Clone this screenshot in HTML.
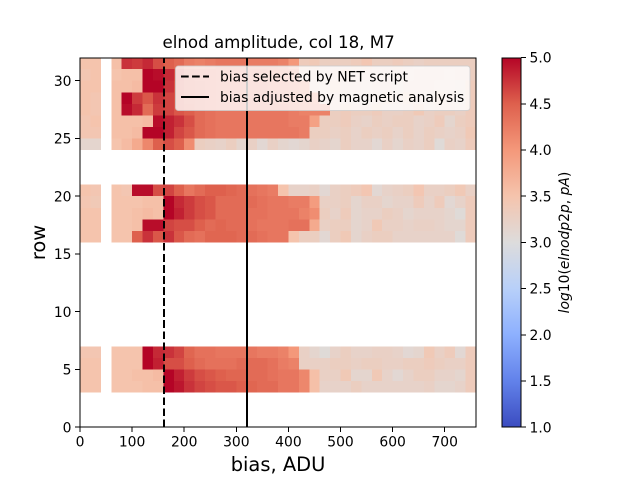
<!DOCTYPE html>
<html>
<head>
<meta charset="utf-8">
<title>elnod amplitude</title>
<style>
html,body{margin:0;padding:0;background:#fff;width:640px;height:480px;overflow:hidden}
svg{display:block}
text{font-family:"DejaVu Sans","Liberation Sans",sans-serif;fill:#000}
</style>
</head>
<body>
<svg id="chart" width="640" height="480" viewBox="0 0 640 480" xmlns="http://www.w3.org/2000/svg">
<rect width="640" height="480" fill="#fff"/>
<g id="cells" shape-rendering="crispEdges"></g>
<g id="lines" shape-rendering="crispEdges"></g>
<g id="legend">
<rect x="175.5" y="66" width="294.5" height="44.5" rx="2.8" fill="#fff" fill-opacity="0.8" stroke="#ccc" stroke-opacity="0.8" stroke-width="1"/>
<line x1="181" x2="209" y1="76.5" y2="76.5" stroke="#000" stroke-width="2.08" stroke-dasharray="7.7 3.33"/>
<text x="220" y="81.5" font-size="13.89">bias selected by NET script</text>
<line x1="181" x2="209" y1="97" y2="97" stroke="#000" stroke-width="2.08"/>
<text x="220" y="102" font-size="13.89">bias adjusted by magnetic analysis</text>
</g>
<g id="axes"></g>
<text x="278.6" y="48" font-size="16.67" text-anchor="middle">elnod amplitude, col 18, M7</text>
<text x="278" y="471" font-size="19.44" text-anchor="middle">bias, ADU</text>
<text transform="translate(45 242.5) rotate(-90)" font-size="19.44" text-anchor="middle">row</text>
<defs>
<linearGradient id="cmapGrad" x1="0" y1="1" x2="0" y2="0"></linearGradient>
</defs>
<rect id="cbar" x="502.5" y="57.6" width="18.5" height="369.6" fill="url(#cmapGrad)"/>
<rect x="502" y="58" width="19" height="369" fill="none" stroke="#000" stroke-width="1" shape-rendering="crispEdges"/>
<g id="cbarTicks"></g>
<text transform="translate(569 242.5) rotate(-90)" font-size="13.89" text-anchor="middle"><tspan font-style="italic">log</tspan>10(<tspan font-style="italic">elnodp</tspan>2<tspan font-style="italic">p</tspan>, <tspan font-style="italic">pA</tspan>)</text>
</svg>
<script>
var n = null;
var rowLabels = [3,4,5,6,16,17,18,19,20,24,25,26,27,28,29,30,31];
var row3  = [3.5,3.5,n,3.5,3.5,3.5,3.55,3.55,5,4.9,4.75,4.65,4.6,4.55,4.55,4.5,4.45,4.4,4.4,4.3,4.3,4.15,3.55,3.2,3.2,3.2,3.3,3.2,3.2,3.2,3.2,3.2,3.2,3.25,3.15,3.15,3.2,3.35];
var row4  = [3.5,3.5,n,3.5,3.5,3.55,3.55,3.6,5,4.85,4.7,4.6,4.55,4.5,4.45,4.45,4.4,4.4,4.35,4.3,4.3,4.15,3.55,3.25,3.25,3.4,3.15,3.15,3.4,3.2,3.1,3.2,3.3,3.3,3.2,3.2,3.15,3.35];
var row5  = [3.5,3.5,n,3.5,3.5,3.5,5,4.85,4.6,4.6,4.5,4.4,4.35,4.35,4.35,4.4,4.4,4.4,4.35,4.25,4.2,3.25,3.25,3.25,3.3,3.3,3.25,3.3,3.3,3.25,3.25,3.3,3.3,3.35,3.3,3.25,3.25,3.35];
var row6  = [3.45,3.45,n,3.5,3.5,3.5,5,4.8,4.75,4.65,4.45,4.35,4.35,4.3,4.3,4.3,4.3,4.25,4.25,4.2,4.0,3.25,3.15,3.05,3.2,3.3,3.2,3.2,3.25,3.25,3.2,3.1,3.15,3.4,3.25,3.35,3.1,3.35];
var row16 = [3.5,3.5,n,3.5,3.5,4.5,4.75,4.55,4.75,4.55,4.4,4.35,4.45,4.45,4.45,4.4,4.4,4.35,4.3,4.3,3.5,3.3,3.3,3.1,3.3,3.4,3.15,3.25,3.3,3.3,3.2,3.2,3.2,3.2,3.2,3.2,3.05,3.35];
var row17 = [3.5,3.5,n,3.5,3.5,3.55,4.95,4.95,4.65,4.6,4.6,4.5,4.4,4.45,4.4,4.4,4.35,4.3,4.3,4.3,4.35,4.35,3.8,3.25,3.3,3.3,3.15,3.2,3.4,3.25,3.25,3.2,3.25,3.25,3.2,3.15,3.15,3.35];
var row18 = [3.5,3.5,n,3.5,3.5,3.55,3.6,3.55,5,4.85,4.7,4.6,4.55,4.4,4.4,4.4,4.35,4.35,4.3,4.3,4.3,4.2,4.1,3.3,3.2,3.35,3.15,3.2,3.2,3.3,3.25,3.15,3.2,3.2,3.2,3.15,3.05,3.35];
var row19 = [3.45,3.4,n,3.5,3.5,3.5,3.55,3.55,5,4.8,4.7,4.6,4.55,4.4,4.4,4.4,4.4,4.35,4.3,4.3,4.25,4.25,3.95,3.25,3.25,3.3,3.15,3.25,3.25,3.15,3.2,3.2,3.35,3.2,3.35,3.1,3.2,3.35];
var row20 = [3.5,3.45,n,3.5,3.45,4.95,4.95,4.6,4.65,4.5,4.3,4.4,4.5,4.5,4.45,4.4,4.35,4.3,4.25,3.5,3.2,3.2,3.25,3.1,3.25,3.3,3.35,3.45,3.1,3.2,3.25,3.3,3.45,3.25,3.25,3.3,3.4,3.25];
var row24 = [3.15,3.15,n,3.5,3.6,3.8,4.15,4.5,4.6,4.5,4.1,3.3,3.25,3.2,3.3,3.15,3.25,3.1,3.25,3.15,3.1,3.15,3.25,3.2,3.15,3.3,3.2,3.2,3.1,3.25,3.15,3.25,3.2,3.3,3.05,3.25,3.2,3.35];
var row25 = [3.45,3.45,n,3.55,3.55,3.6,5,5,4.85,4.65,4.55,4.4,4.35,4.3,4.3,4.3,4.3,4.3,4.3,4.3,4.3,4.25,3.3,3.3,3.25,3.3,3.2,3.3,3.25,3.3,3.2,3.3,3.2,3.3,3.25,3.2,3.25,3.4];
var row26 = [3.45,3.5,n,3.55,3.55,3.55,3.6,4.95,4.85,4.75,4.6,4.4,4.35,4.3,4.3,4.3,4.3,4.3,4.3,4.3,4.25,4.25,3.9,3.3,3.3,3.35,3.25,3.2,3.3,3.25,3.3,3.3,3.2,3.25,3.35,3.15,3.3,3.35];
var row27 = [3.5,3.45,n,3.55,4.95,4.8,4.4,4.7,4.65,4.55,4.5,4.4,4.35,4.3,4.3,4.3,4.3,4.3,4.3,4.3,4.25,4.2,4.2,4.2,3.3,3.35,3.3,3.3,3.35,3.25,3.25,3.3,3.4,3.25,3.3,3.3,3.25,3.35];
var row28 = [3.5,3.45,n,3.55,5,4.7,4.55,4.75,4.65,4.55,4.45,4.4,4.35,4.3,4.3,4.3,4.3,4.3,4.3,4.25,4.25,4.2,4.15,3.3,3.3,3.3,3.25,3.25,3.3,3.35,3.3,3.35,3.3,3.25,3.35,3.3,3.2,3.35];
var row29 = [3.5,3.5,n,3.55,3.55,3.6,5,5,4.75,4.55,4.45,4.4,4.35,4.3,4.3,4.3,4.3,4.3,4.25,4.25,4.2,4.15,3.3,3.25,3.35,3.3,3.3,3.25,3.3,3.3,3.2,3.3,3.3,3.3,3.25,3.25,3.2,3.35];
var row30 = [3.45,3.5,n,3.5,3.55,3.55,5,4.95,4.8,4.6,4.4,4.35,4.35,4.3,4.3,4.3,4.3,4.3,4.25,4.25,4.2,3.3,3.3,3.25,3.3,3.35,3.3,3.3,3.25,3.3,3.3,3.25,3.3,3.3,3.3,3.25,3.3,3.3];
var row31 = [3.5,3.5,n,3.55,4.75,4.7,4.8,4.6,4.5,4.4,4.25,4.2,4.25,4.3,4.3,4.3,4.25,4.25,4.25,4.2,4.0,3.35,3.4,3.3,3.3,3.3,3.35,3.45,3.3,3.3,3.35,3.3,3.25,3.3,3.3,3.3,3.3,3.3];
var heatRows = [row3,row4,row5,row6,row16,row17,row18,row19,row20,row24,row25,row26,row27,row28,row29,row30,row31];
var binWidth = 20;
var xTicks = [0,100,200,300,400,500,600,700];
var yTicks = [0,5,10,15,20,25,30];
var cbarTicks = [1.0,1.5,2.0,2.5,3.0,3.5,4.0,4.5,5.0];
var selectedBias = [160];
var adjustedBias = [320];

var L=80,R=476,T=57.6,B=427.2,XMAX=760,YMAX=32,VMIN=1,VMAX=5;
function sx(v){return L+(v/XMAX)*(R-L);}
function sy(v){return B-(v/YMAX)*(B-T);}
function sc(v){return B-((v-VMIN)/(VMAX-VMIN))*(B-T);}
var cmap=[[59,76,192],[98,130,234],[141,176,254],[184,208,249],[221,220,220],[245,196,173],[244,152,122],[222,96,77],[180,4,38]];
function color(v){
  var t=Math.max(0,Math.min(1,(v-VMIN)/(VMAX-VMIN)))*(cmap.length-1);
  var i=Math.min(cmap.length-2,Math.floor(t)),f=t-i,a=cmap[i],b=cmap[i+1];
  return 'rgb('+Math.round(a[0]+(b[0]-a[0])*f)+','+Math.round(a[1]+(b[1]-a[1])*f)+','+Math.round(a[2]+(b[2]-a[2])*f)+')';
}
var NS='http://www.w3.org/2000/svg';
function mk(tag,parent,attrs){
  var e=document.createElementNS(NS,tag);
  for(var k in attrs){e.setAttribute(k,attrs[k]);}
  parent.appendChild(e);
  return e;
}
var cells=document.getElementById('cells');
heatRows.forEach(function(vals,ri){
  var r=rowLabels[ri];
  vals.forEach(function(v,ci){
    if(v===null){return;}
    var x0=sx(ci*binWidth),x1=sx((ci+1)*binWidth),y0=sy(r+1),y1=sy(r);
    var c=mk('rect',cells,{x:x0,y:y0,width:x1-x0,height:y1-y0,fill:color(v)});
    
    
  });
});
var lines=document.getElementById('lines');
selectedBias.forEach(function(b){
  var x=Math.ceil(sx(b));
  var l=mk('line',lines,{x1:x,x2:x,y1:B,y2:T,stroke:'#000','stroke-width':2,'stroke-dasharray':'7.7 3.33'});
  
  
});
adjustedBias.forEach(function(b){
  var x=Math.ceil(sx(b));
  var l=mk('line',lines,{x1:x,x2:x,y1:B,y2:T,stroke:'#000','stroke-width':2});
  
  
});
var axes=document.getElementById('axes');
axes.setAttribute('shape-rendering','crispEdges');
var frame=mk('rect',axes,{x:L,y:58,width:R-L,height:369,fill:'none',stroke:'#000','stroke-width':1});


xTicks.forEach(function(t){
  var x=sx(t);
  var m=mk('line',axes,{x1:x,x2:x,y1:B,y2:B+4.9,stroke:'#000','stroke-width':1});
  
  
  var s=mk('text',axes,{x:x,y:B+19.3,'font-size':13.89,'text-anchor':'middle'});
  
  
  s.textContent=t;
});
yTicks.forEach(function(t){
  var y=sy(t);
  var m=mk('line',axes,{x1:L-4.9,x2:L,y1:y,y2:y,stroke:'#000','stroke-width':1});
  
  
  var s=mk('text',axes,{x:L-8.5,y:y+5.1,'font-size':13.89,'text-anchor':'end'});
  
  
  s.textContent=t;
});
var grad=document.getElementById('cmapGrad');
cmap.forEach(function(c,i){
  mk('stop',grad,{offset:i/(cmap.length-1),'stop-color':'rgb('+c.join(',')+')'});
});
var cb=document.getElementById('cbarTicks');
cb.setAttribute('shape-rendering','crispEdges');
cbarTicks.forEach(function(t){
  var y=sc(t);
  var m=mk('line',cb,{x1:521,x2:525.9,y1:y,y2:y,stroke:'#000','stroke-width':1});
  
  
  var s=mk('text',cb,{x:529.5,y:y+5.1,'font-size':13.89});
  
  
  s.textContent=t.toFixed(1);
});
</script>
</body>
</html>
